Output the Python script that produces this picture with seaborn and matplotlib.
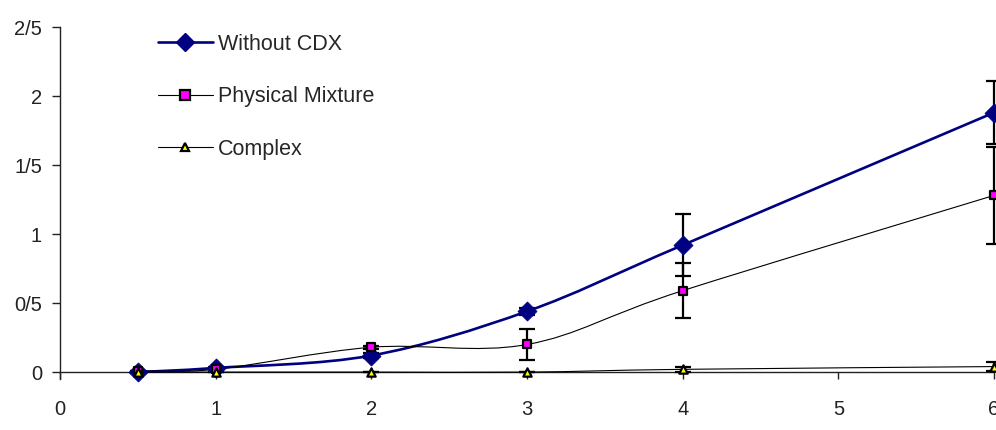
import numpy as np
import seaborn as sns
import matplotlib.pyplot as plt
from matplotlib.path import Path
from matplotlib.patches import PathPatch
from matplotlib.lines import Line2D

# data
time = [0.5, 1, 2, 3, 4, 6]
without_cdx = [0.0, 0.03, 0.12, 0.44, 0.92, 1.88]
without_err = [0.0, 0.01, 0.02, 0.025, 0.225, 0.23]
physical_mix = [0.01, 0.02, 0.18, 0.20, 0.59, 1.28]
physical_err = [0.0, 0.0, 0.01, 0.11, 0.20, 0.35]
complex_vals = [0.0, 0.0, 0.0, 0.0, 0.02, 0.04]
complex_err = [0.0, 0.0, 0.0, 0.0, 0.02, 0.03]

x_ticks = [0, 1, 2, 3, 4, 5, 6]
y_ticks = [0, 0.5, 1, 1.5, 2, 2.5]
y_labels = ['0', '0/5', '1', '1/5', '2', '2/5']

sns.set_style('white')
plt.rcParams['font.family'] = ['Liberation Sans', 'DejaVu Sans']


def smooth_path(xs, ys):
    """Excel-style smoothed line as a bezier path through the points."""
    pts = np.column_stack([xs, ys]).astype(float)
    n = len(pts)
    verts = [pts[0]]
    codes = [Path.MOVETO]
    for i in range(n - 1):
        p0 = pts[max(i - 1, 0)]
        p1 = pts[i]
        p2 = pts[i + 1]
        p3 = pts[min(i + 2, n - 1)]
        verts += [p1 + (p2 - p0) / 6, p2 - (p3 - p1) / 6, p2]
        codes += [Path.CURVE4] * 3
    return Path(verts, codes)


fig = plt.figure(figsize=(9.96, 4.30), dpi=100)
ax = fig.add_axes([0.0602, 0.1186, 0.9378, 0.8186])

series = [
    (without_cdx, without_err, 'Without CDX', '#000080', 1.9, 'D', 95, '#000080', 0.5),
    (physical_mix, physical_err, 'Physical Mixture', 'black', 0.8, 's', 40, '#ff00ff', 1.6),
    (complex_vals, complex_err, 'Complex', 'black', 0.8, '^', 36, '#ffff00', 1.6),
]

for k, (vals, err, label, lc, lw, mk, ms, fc, ew) in enumerate(series):
    ax.add_patch(PathPatch(smooth_path(time, vals), fill=False, edgecolor=lc,
                           linewidth=lw, zorder=3 + k, clip_on=False))
    ax.errorbar(time, vals, yerr=err, fmt='none', ecolor='black', elinewidth=1.6,
                capsize=6, capthick=1.6, zorder=6, clip_on=False)
    sns.scatterplot(x=time, y=vals, marker=mk, s=ms, color=fc,
                    edgecolor='black' if fc != '#000080' else '#000080',
                    linewidth=ew, ax=ax, zorder=7 + k, clip_on=False, legend=False)

ax.set_xlim(0, 6)
ax.set_ylim(-0.05, 2.5)
ax.set_xticks(x_ticks)
ax.set_xticklabels([str(t) for t in x_ticks])
ax.set_yticks(y_ticks)
ax.set_yticklabels(y_labels)

for side in ['top', 'right']:
    ax.spines[side].set_visible(False)
ax.spines['bottom'].set_position(('data', 0))
ax.spines['bottom'].set_color('#222222')
ax.spines['bottom'].set_linewidth(1.0)
ax.spines['left'].set_color('#222222')
ax.spines['left'].set_linewidth(1.0)

ax.tick_params(axis='y', direction='out', length=6, width=1, color='#222222',
               pad=7, labelsize=14.5, labelcolor='#222222', left=True)
ax.tick_params(axis='x', direction='out', length=5, width=1, color='#222222',
               pad=15, labelsize=14.5, labelcolor='#222222', bottom=True)

handles = [
    Line2D([], [], color='#000080', lw=1.9, marker='D', markersize=9.5,
           markerfacecolor='#000080', markeredgecolor='#000080'),
    Line2D([], [], color='black', lw=0.8, marker='s', markersize=6.5,
           markerfacecolor='#ff00ff', markeredgecolor='black', markeredgewidth=1.6),
    Line2D([], [], color='black', lw=0.8, marker='^', markersize=6,
           markerfacecolor='#ffff00', markeredgecolor='black', markeredgewidth=1.6),
]
fig.legend(handles, ['Without CDX', 'Physical Mixture', 'Complex'],
           loc='upper left', bbox_to_anchor=(0.1586, 0.922), frameon=False,
           fontsize=15.5, handlelength=2.55, handletextpad=0.23, labelspacing=1.47,
           borderpad=0, borderaxespad=0)

fig.savefig('out.png', dpi=100)
